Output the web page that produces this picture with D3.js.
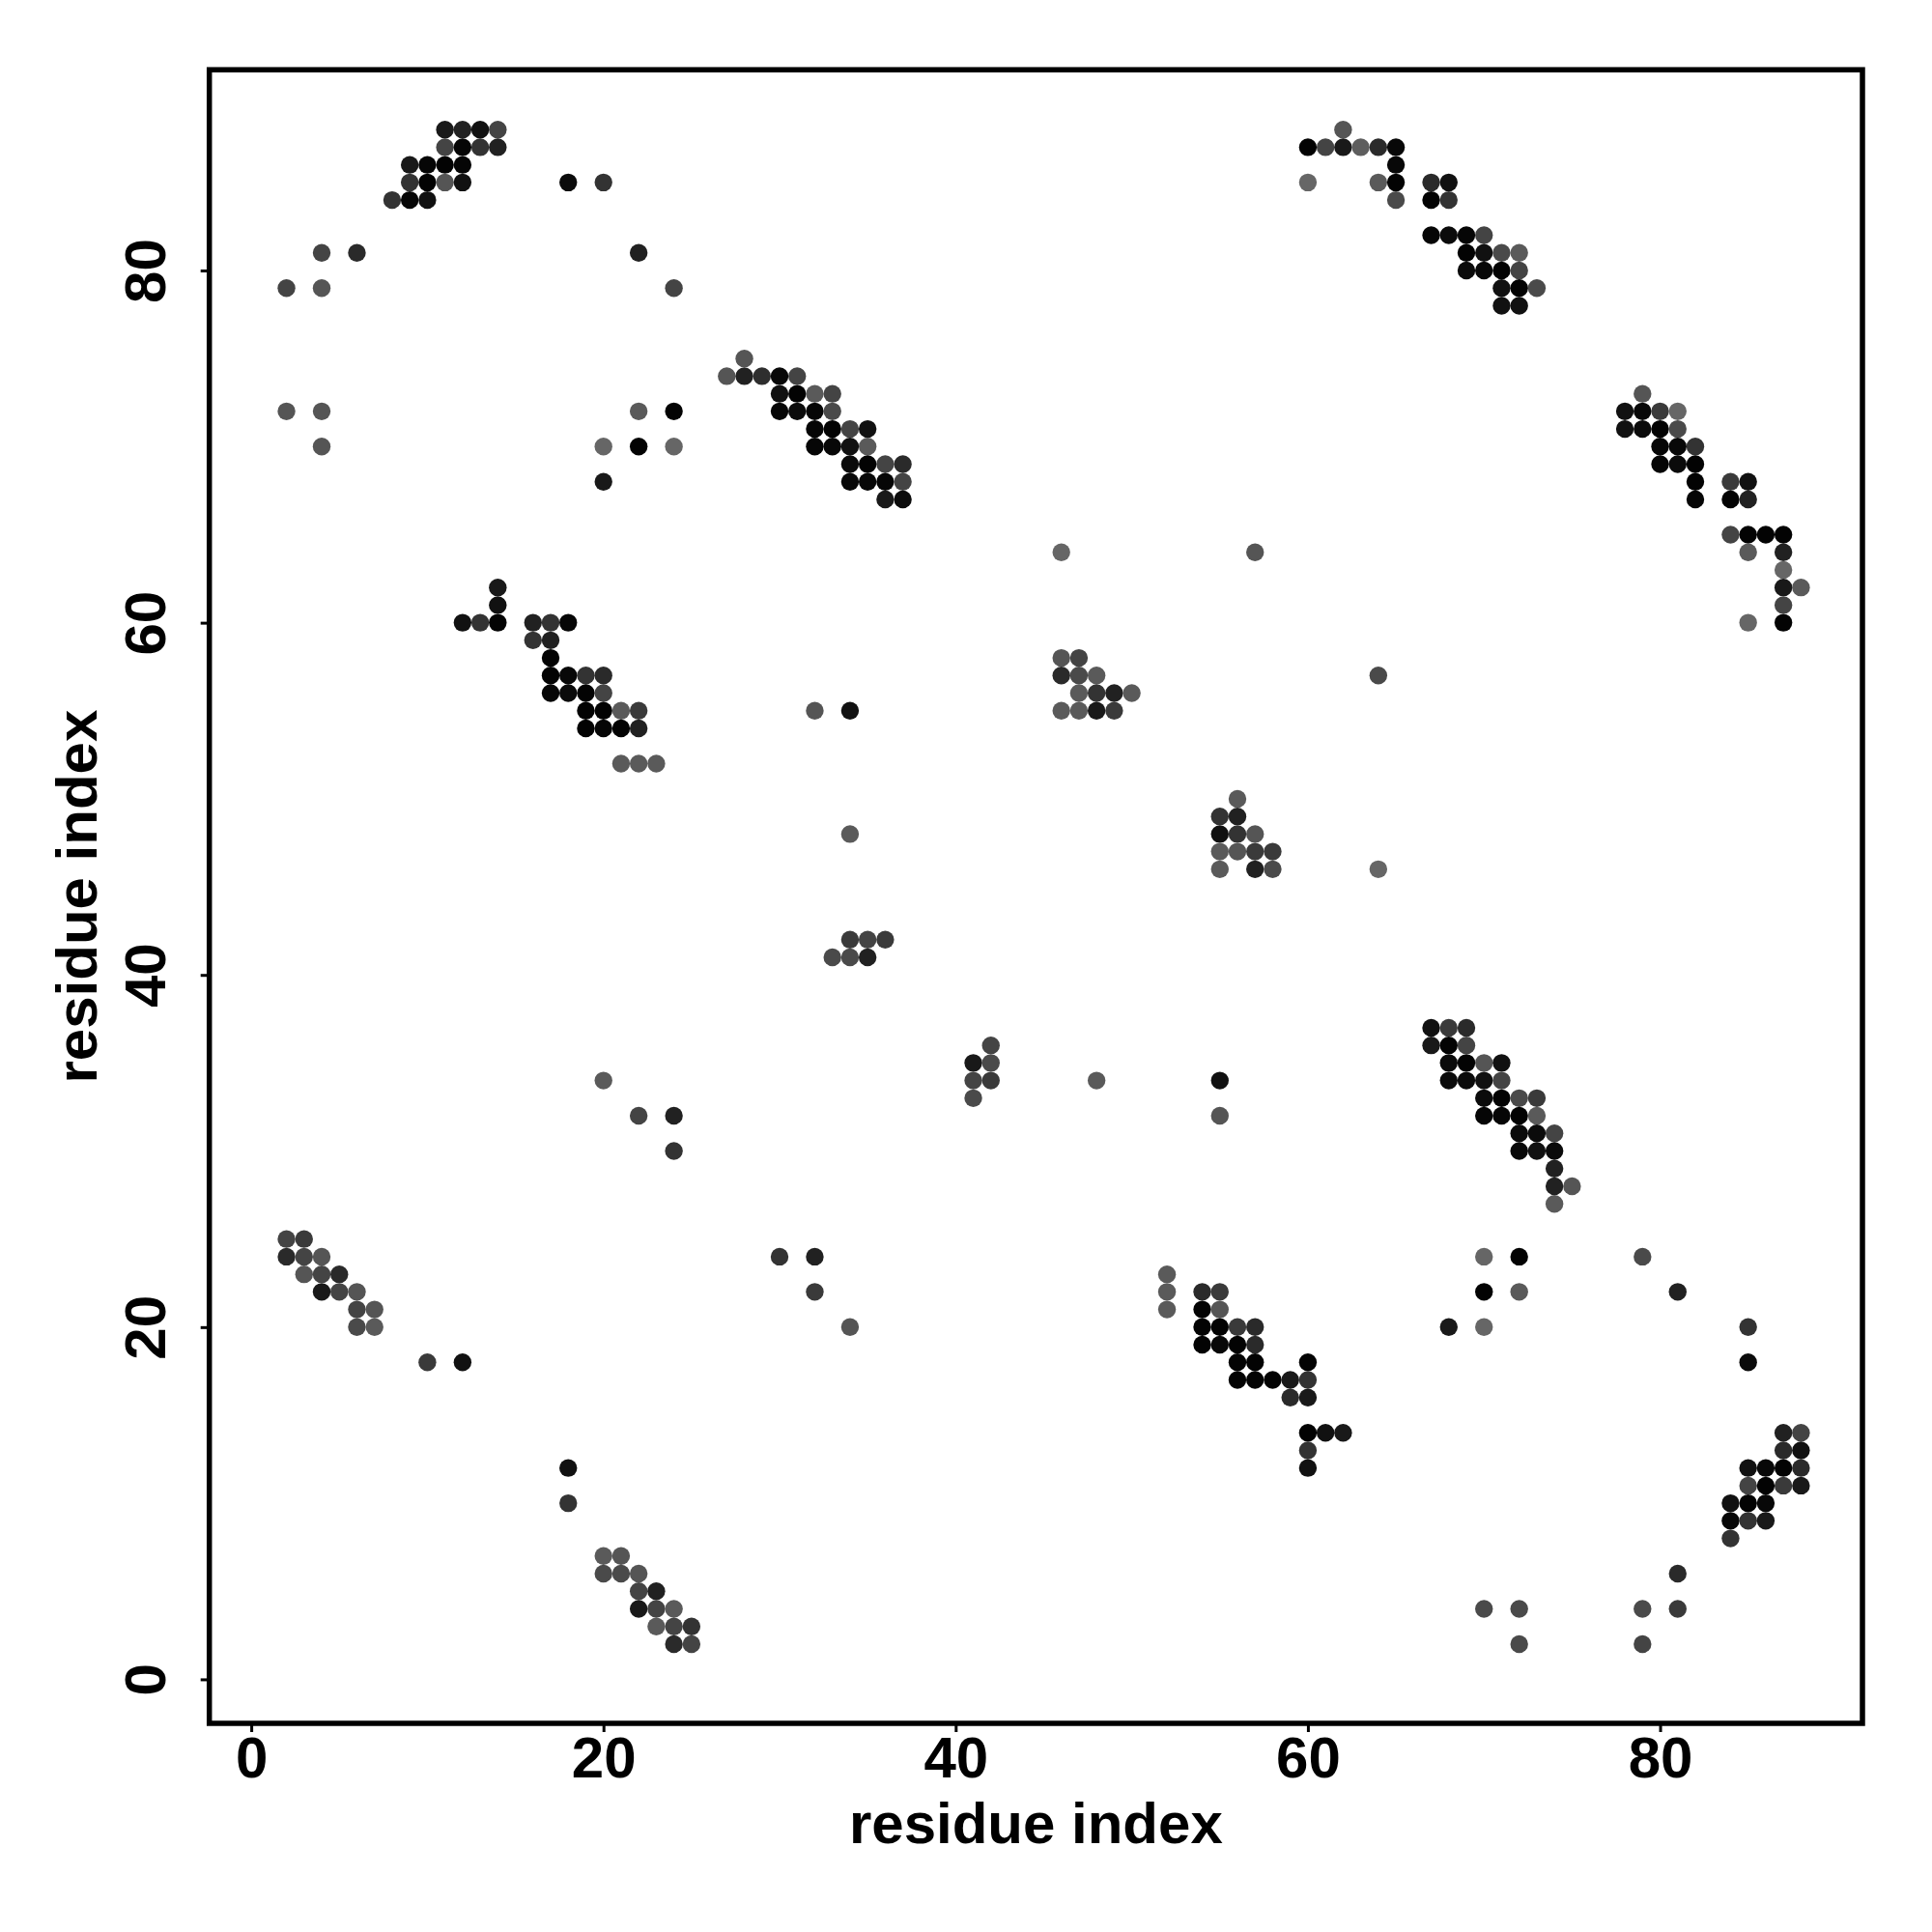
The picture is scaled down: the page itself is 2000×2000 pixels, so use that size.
<!DOCTYPE html>
<html>
<head>
<meta charset="utf-8">
<script src="https://cdn.jsdelivr.net/npm/d3@7"></script>
<style>
  html, body { margin: 0; padding: 0; background: #fff; }
  svg { display: block; }
  text { font-family: "Liberation Sans", Arial, Helvetica, sans-serif; font-weight: bold; }
</style>
</head>
<body>
<svg id="chart" width="2000" height="2000"></svg>
<script>
// ---- data: contacts grouped by row (residue j), columns (residue i) and contact probability ----
const rowJ = [88,87,86,85,84,82,81,80,79,78,75,74,73,72,71,70,69,68,67,65,64,63,62,61,60,59,58,57,56,55,54,52,50,49,48,47,46,42,41,37,36,35,34,33,32,31,30,29,28,27,25,24,23,22,21,20,19,18,17,16,14,13,12,11,10,9,8,7,6,5,4,3,2];
const rowI = [
  [11,12,13,14,62],
  [11,12,13,14,60,61,62,63,64,65],
  [9,10,11,12,65],
  [9,10,11,12,18,20,60,64,65,67,68],
  [8,9,10,65,67,68],
  [67,68,69,70],
  [4,6,22,69,70,71,72],
  [69,70,71,72],
  [2,4,24,71,72,73],
  [71,72],
  [28],
  [27,28,29,30,31],
  [30,31,32,33,79],
  [2,4,22,24,30,31,32,33,78,79,80,81],
  [32,33,34,35,78,79,80,81],
  [4,20,22,24,32,33,34,35,80,81,82],
  [34,35,36,37,80,81,82],
  [20,34,35,36,37,82,84,85],
  [36,37,82,84,85],
  [84,85,86,87],
  [46,57,85,87],
  [87],
  [14,87,88],
  [14,87],
  [12,13,14,16,17,18,85,87],
  [16,17],
  [17,46,47],
  [17,18,19,20,46,47,48,64],
  [17,18,19,20,47,48,49,50],
  [19,20,21,22,32,34,46,47,48,49],
  [19,20,21,22],
  [21,22,23],
  [56],
  [55,56],
  [34,55,56,57],
  [55,56,57,58],
  [55,57,58,64],
  [34,35,36],
  [33,34,35],
  [67,68,69],
  [42,67,68,69],
  [41,42,68,69,70,71],
  [20,41,42,48,55,68,69,70,71],
  [41,70,71,72,73],
  [22,24,55,70,71,72,73],
  [72,73,74],
  [24,72,73,74],
  [74],
  [74,75],
  [74],
  [2,3],
  [2,3,4,30,32,70,72,79],
  [3,4,5,52],
  [4,5,6,32,52,54,55,70,72,81],
  [6,7,52,54,55],
  [6,7,34,54,55,56,57,68,70,85],
  [54,55,56,57],
  [10,12,56,57,60,85],
  [56,57,58,59,60],
  [59,60],
  [60,61,62,87,88],
  [60,87,88],
  [18,60,85,86,87,88],
  [85,86,87,88],
  [18,84,85,86],
  [84,85,86],
  [84],
  [20,21],
  [20,21,22,81],
  [22,23],
  [22,23,24,70,72,79,81],
  [23,24,25],
  [24,25,72,79]
];
const rowP = [
  [.77,.70,.85,.38,.23],
  [.38,.95,.54,.70,.97,.38,.77,.15,.62,.93],
  [.77,.95,.97,.95,.93],
  [.54,.97,.23,.85,.90,.54,.07,.18,.97,.62,.85],
  [.54,.95,.85,.33,.97,.54],
  [.95,.90,.95,.38],
  [.38,.62,.70,.97,.85,.33,.18],
  [.90,.93,.97,.38],
  [.38,.23,.38,.85,.97,.33],
  [.85,.85],
  [.23],
  [.23,.70,.58,.93,.38],
  [.85,.97,.18,.38,.23],
  [.23,.23,.18,.97,.95,.90,.95,.33,.85,.93,.47,.07],
  [.95,.97,.38,.85,.85,.90,.97,.33],
  [.23,.07,.97,.07,.95,.93,.85,.18,.95,.93,.54],
  [.90,.97,.38,.62,.95,.90,.97],
  [.77,.93,.93,.95,.38,.97,.47,.85],
  [.77,.90,.95,.97,.70],
  [.38,.97,.97,.97],
  [.07,.23,.18,.70],
  [.07],
  [.77,.77,.18],
  [.85,.38],
  [.85,.54,.97,.70,.54,.95,.07,.97],
  [.54,.70],
  [.97,.23,.38],
  [.97,.93,.54,.62,.62,.33,.18,.33],
  [.95,.90,.97,.38,.18,.54,.70,.18],
  [.97,.97,.18,.47,.23,.85,.18,.18,.77,.47],
  [.97,.95,.97,.70],
  [.18,.18,.18],
  [.18],
  [.54,.70],
  [.18,.85,.54,.23],
  [.18,.23,.47,.47],
  [.18,.70,.33,.07],
  [.47,.38,.47],
  [.33,.33,.70],
  [.85,.47,.62],
  [.38,.77,.97,.38],
  [.77,.33,.90,.97,.23,.85],
  [.18,.38,.47,.18,.85,.90,.90,.85,.38],
  [.33,.90,.97,.33,.47],
  [.38,.70,.23,.95,.95,.97,.18],
  [.90,.90,.38],
  [.54,.93,.85,.90],
  [.70],
  [.70,.23],
  [.18],
  [.38,.47],
  [.62,.38,.23,.54,.70,.07,.97,.33],
  [.23,.38,.62,.18],
  [.77,.38,.23,.47,.18,.62,.47,.97,.18,.70],
  [.38,.23,.18,.97,.23],
  [.33,.18,.23,.97,.97,.47,.62,.77,.07,.54],
  [.97,.93,.97,.62],
  [.47,.85,.97,.97,.97,.90],
  [.97,.97,.97,.77,.54],
  [.62,.77],
  [.97,.85,.77,.70,.38],
  [.54,.62,.85],
  [.85,.85,.85,.93,.97,.62],
  [.38,.97,.47,.77],
  [.54,.85,.97,.93],
  [.95,.54,.77],
  [.54],
  [.18,.23],
  [.33,.33,.23,.62],
  [.38,.70],
  [.77,.38,.18,.33,.33,.33,.47],
  [.18,.38,.54],
  [.62,.38,.33,.38]
];
const tickValues = [0, 20, 40, 60, 80];
const xTitle = "residue index";
const yTitle = "residue index";

// ---- build point table ----
const contacts = [];
rowJ.forEach((j, r) => {
  rowI[r].forEach((i, k) => contacts.push({ i: i, j: j, p: rowP[r][k] }));
});

// ---- layout ----
const svg = d3.select("#chart");
const plotL = 216.7, plotR = 1928, plotT = 72.2, plotB = 1784;

const x = d3.scaleLinear().domain([-2.38, 91.49]).range([plotL, plotR]);
const y = d3.scaleLinear().domain([-2.5, 91.4]).range([plotB, plotT]);
const shade = d3.scaleLinear().domain([0, 1]).range(["#6e6e6e", "#000000"]).clamp(true);

// points
svg.append("g")
  .selectAll("circle")
  .data(contacts)
  .join("circle")
  .attr("cx", d => x(d.i))
  .attr("cy", d => y(d.j))
  .attr("r", 9.2)
  .attr("fill", d => shade(d.p));

// x axis
const gx = svg.append("g")
  .attr("transform", `translate(0,${plotB})`)
  .call(d3.axisBottom(x).tickValues(tickValues).tickSize(9).tickFormat(d3.format("d")));
gx.select(".domain").remove();
gx.selectAll(".tick line").attr("stroke", "#000").attr("stroke-width", 3);
gx.selectAll(".tick text")
  .attr("y", 56).attr("dy", null)
  .attr("fill", "#000")
  .style("font-size", "60px")
  .style("font-weight", "bold")
  .style("font-family", '"Liberation Sans", Arial, sans-serif');

// y axis
const gy = svg.append("g")
  .attr("transform", `translate(${plotL},0)`)
  .call(d3.axisLeft(y).tickValues(tickValues).tickSize(9).tickFormat(d3.format("d")));
gy.select(".domain").remove();
gy.selectAll(".tick line").attr("stroke", "#000").attr("stroke-width", 3);
gy.selectAll(".tick text")
  .attr("x", null).attr("dy", null)
  .attr("transform", "translate(-46,0) rotate(-90)")
  .attr("text-anchor", "middle")
  .attr("fill", "#000")
  .style("font-size", "60px")
  .style("font-weight", "bold")
  .style("font-family", '"Liberation Sans", Arial, sans-serif');

// frame
svg.append("rect")
  .attr("x", plotL).attr("y", plotT)
  .attr("width", plotR - plotL).attr("height", plotB - plotT)
  .attr("fill", "none").attr("stroke", "#000").attr("stroke-width", 5.5);

// titles
svg.append("text")
  .attr("x", (plotL + plotR) / 2).attr("y", 1908)
  .attr("text-anchor", "middle")
  .style("font-size", "60px")
  .text(xTitle);

svg.append("text")
  .attr("transform", `translate(100,${(plotT + plotB) / 2}) rotate(-90)`)
  .attr("text-anchor", "middle")
  .style("font-size", "60px")
  .text(yTitle);
</script>
</body>
</html>
